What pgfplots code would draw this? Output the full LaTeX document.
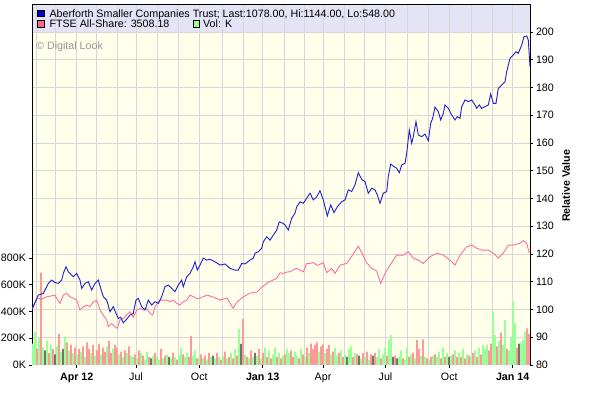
\documentclass[border=0pt]{standalone}
\usepackage{fontspec}
\setmainfont{Liberation Sans}
\usepackage{pgfplots}
\pgfplotsset{compat=1.18}
\definecolor{bgivory}{RGB}{255,255,236}
\definecolor{bandlav}{RGB}{228,228,246}
\definecolor{gridgray}{RGB}{216,216,216}
\definecolor{lineblue}{RGB}{30,30,205}
\definecolor{linepink}{RGB}{255,110,160}
\definecolor{volgreen}{RGB}{153,255,153}
\definecolor{volred}{RGB}{255,153,153}
\definecolor{volgray}{RGB}{115,115,115}
\definecolor{legblue}{RGB}{0,0,204}
\definecolor{legpink}{RGB}{255,102,136}
\definecolor{copygray}{RGB}{150,150,150}
\newcommand{\chartfont}{\fontsize{10.7}{12.8}\selectfont}
\begin{document}
\begin{tikzpicture}[x=1pt,y=1pt]
% ---------------- volume axis (left) ----------------
\begin{axis}[
  set layers,
  at={(32pt,36pt)}, anchor=south west,
  scale only axis, width=498pt, height=360pt,
  xmin=32, xmax=530, ymin=0, ymax=2691.6,
  axis line style={black, line width=1pt},
  font=\chartfont,
  ticklabel style={font=\chartfont},
  tick align=outside, major tick length=3pt,
  tick style={black, line width=0.8pt},
  xtick pos=bottom, ytick pos=left,
  xtick={76.7,136,199.3,262.7,323,385.5,449.3,512.7},
  xticklabels={\textbf{Apr 12},Jul,Oct,\textbf{Jan 13},Apr,Jul,Oct,\textbf{Jan 14}},
  xticklabel style={yshift=-1.5pt},
  extra x ticks={36,55.5,76.7,96.7,117.3,136,157.3,178,199.3,222.7,243,262.7,284,304,323,344,364,385.5,407.3,428.3,449.3,471.7,492.7,512.7},
  extra x tick labels={},
  extra x tick style={grid=major, major tick length=0pt},
  ytick={0,200,400,600,800},
  yticklabels={0K,200K,400K,600K,800K},
  yticklabel style={xshift=0.5pt},
  extra y ticks={207.5,415.0,622.4,829.9,1037.4,1244.9,1452.3,1659.8,1867.3,2074.8,2282.2,2489.7},
  extra y tick labels={},
  extra y tick style={grid=major, major tick length=0pt},
  grid style={gridgray, line width=0.9pt},
]
\begin{pgfonlayer}{axis background}
  \fill[bgivory] (rel axis cs:0,0) rectangle (rel axis cs:1,1);
  \fill[bandlav] (axis cs:32,2489.7) rectangle (rel axis cs:1,1);
\end{pgfonlayer}
% green volume bars
\addplot[ybar, bar width=1.8, bar shift=0pt, fill=volgreen, draw=none] coordinates {
(33,160)(35,250)(39,200)(43,130)(47,180)(51,150)(57,140)(61,100)(65,210)(69,110)(73,90)(77,80)(81,100)(85,60)(91,90)(95,70)(101,80)(107,140)(113,120)(119,80)(123,60)(127,90)(131,70)
(133,60)(137,50)(141,90)(145,40)(147,100)(153,70)(157,60)(159,40)(163,50)(167,80)(171,50)(175,60)(179,70)(181,130)(185,60)(187,90)(193,70)(195,110)(199,60)(203,50)(207,40)(211,60)(215,50)(219,60)(223,70)(227,50)(231,90)(235,120)(239,269)(245,80)(249,50)(253,60)(257,70)(261,50)(265,130)(269,110)(273,80)(275,130)(279,90)(283,70)(287,120)(289,90)(295,100)(297,70)(301,120)(305,60)(309,90)(319,100)(325,90)(331,80)
(335,130)(337,70)(341,110)(345,80)(349,120)(351,140)(355,90)(361,50)(365,60)(369,40)(377,60)(379,120)(383,80)(385,130)(389,187)(391,224)(399,60)(401,110)(405,40)(407,130)(411,80)(415,50)(421,70)(425,60)(429,40)(433,70)(437,60)(439,100)(443,130)(447,90)(451,70)(455,110)(459,90)(463,120)(467,80)(471,60)(475,110)(479,130)(483,150)(485,120)(487,150)(493,399)(495,224)(499,180)(503,150)(505,336)(509,110)(511,200)(513,473)(515,312)(521,170)(523,190)(525,249)
};
% red volume bars
\addplot[ybar, bar width=1.8, bar shift=0pt, fill=volred, draw=none] coordinates {
(37,120)(41,690)(49,90)(53,120)(59,235)(67,170)(71,150)(75,130)(79,120)(83,140)(87,170)(89,120)(93,150)(97,110)(99,160)(103,130)(105,100)(109,180)(111,90)(115,150)(117,130)(121,100)(125,110)(129,140)
(135,80)(139,110)(143,70)(149,60)(155,90)(161,120)(165,70)(173,90)(177,40)(183,80)(189,60)(191,217)(197,50)(201,80)(205,70)(209,90)(217,90)(221,40)(225,100)(229,60)(233,50)(237,70)(243,344)(247,60)(251,110)(259,120)(263,90)(267,60)(271,50)(277,60)(281,50)(285,80)(291,110)(293,60)(299,50)(303,80)(307,130)(311,160)(313,120)(315,150)(317,170)(321,140)(323,155)(327,120)(329,150)
(333,100)(339,90)(343,60)(353,60)(357,80)(363,90)(367,100)(371,80)(375,90)(381,50)(387,70)(395,70)(403,50)(409,60)(413,90)(417,187)(419,120)(423,192)(427,50)(431,60)(435,80)(441,50)(445,60)(453,80)(457,60)(461,60)(465,50)(469,70)(473,90)(477,60)(481,80)(489,110)(491,160)(497,140)(501,242)(507,120)(517,130)(527,274)(529,230)
};
% dark volume bars
\addplot[ybar, bar width=1.8, bar shift=0pt, fill=volgray, draw=none] coordinates {
(45,110)(55,80)(63,120)(151,50)(169,60)(213,70)(241,157)(255,90)(347,60)(359,70)(373,70)(393,60)(397,50)(449,60)(519,160)
};
\end{axis}
% ---------------- relative value axis (right) ----------------
\begin{axis}[
  at={(32pt,36pt)}, anchor=south west,
  scale only axis, width=498pt, height=360pt,
  xmin=32, xmax=530, ymin=80, ymax=209.73,
  axis x line=none, axis y line*=right,
  axis line style={black, line width=1pt},
  font=\chartfont,
  ticklabel style={font=\chartfont},
  tick align=outside, major tick length=3pt,
  tick style={black, line width=0.8pt},
  ytick={80,90,100,110,120,130,140,150,160,170,180,190,200},
  yticklabels={80,90,100,110,120,130,140,150,160,170,180,190,200},
  yticklabel style={xshift=-0.5pt},
]
\addplot[linepink, line width=0.9pt] coordinates {
(32,100.0)(36.7,104.0)(41.7,103.7)(46.7,104.6)(51.7,104.9)(55,105.2)(56.7,104.0)(60,102.2)(63.3,105.2)(66.7,105.8)(70,104.6)(73.3,104.0)(76.7,103.4)(80,99.8)(83.3,101.0)(86.7,101.6)(90,101.0)(93.3,102.8)(96.7,103.4)(100,99.8)(103.3,98.0)(106.7,96.2)(108.3,93.8)(111.7,95.0)(115,93.8)(117.3,93.2)(120,96.2)(123.3,96.8)(126.7,98.0)(130,99.2)(133.3,97.2)(136.7,99.8)(140,100.4)(143.3,99.8)(146.7,100.4)(150,98.6)(152.7,98.0)(155,101.0)(158.3,102.8)(161.7,103.4)(166.7,103.4)(170,102.8)(173.3,103.4)(176.7,102.2)(180,101.6)(183.3,102.8)(186.7,103.4)(190,105.2)(193.3,104.6)(196.7,104.0)(200,104.1)(207,105.2)(213,104.5)(220,103.4)(227,104.1)(233,100.5)(237,102.7)(243,104.5)(250,105.9)(257,106.3)(262,108.1)(267,109.5)(273,110.6)(276.7,111.2)(280,113.2)(283.3,113.0)(287,113.5)(290,113.6)(293,114.2)(296.7,114.8)(300,114.2)(303.3,113.6)(306.7,116.6)(310,116.6)(313.3,116.9)(316.7,116.0)(318.3,116.0)(323.3,116.9)(326.7,113.3)(331.7,114.8)(335,113.0)(340,116.0)(346.7,116.6)(353.3,120.0)(358.3,122.8)(361.7,120.5)(366.7,116.8)(371.7,114.8)(376.7,113.9)(380.7,109.4)(385,113.0)(390,116.0)(396.7,119.6)(403.3,119.6)(408.3,120.8)(413.3,118.5)(418.3,117.8)(423.3,116.6)(430,119.0)(436.7,120.3)(443.3,119.6)(450,117.8)(455,116.0)(460,119.6)(466.7,122.6)(471.7,123.2)(476.7,122.1)(481.7,121.4)(488.3,121.4)(493.3,120.3)(498.3,118.5)(503.3,120.3)(508.3,123.2)(513.3,123.2)(520,123.9)(523.3,124.8)(526.7,123.9)(529.3,120.3)
};
\addplot[lineblue, line width=0.9pt] coordinates {
(32,100.0)(38.3,105.2)(43.3,105.8)(48.3,109.4)(51.7,110.6)(55,109.7)(58.3,109.4)(61.7,110.6)(63.3,113.0)(66,115.4)(68.3,113.6)(70,113.0)(73.3,111.8)(76.7,113.0)(80,110.6)(81.7,107.6)(85,109.4)(88.3,110.0)(91.7,107.0)(95,109.4)(98.3,110.6)(100.7,107.6)(103.3,104.6)(106.7,103.4)(110,99.2)(113.3,101.0)(116,98.6)(118.3,96.8)(120.7,97.2)(123.3,95.2)(126.7,96.5)(130,98.0)(133.3,98.6)(136,103.4)(138.3,104.0)(141.7,101.0)(145,99.8)(148.3,103.4)(151.7,101.6)(155,102.8)(158.3,102.2)(161.7,104.6)(165,108.2)(168.3,108.8)(171.7,107.6)(175,106.4)(178.3,108.8)(181.7,110.6)(183.3,108.2)(186.7,111.8)(190,113.0)(193.3,115.4)(195,117.2)(197.3,114.2)(200,116.0)(203.3,118.5)(206.7,117.8)(210,118.1)(215,117.2)(220,116.0)(225,116.4)(230,114.8)(235,114.2)(238.3,114.2)(241.7,116.6)(245,116.4)(250,117.8)(253.3,118.5)(255,120.3)(258.3,120.8)(261.7,122.1)(263.3,124.4)(266.7,126.2)(270,125.0)(273.3,126.8)(276.7,128.6)(279.3,131.6)(282.7,131.1)(285,130.5)(288.3,128.6)(291.7,132.9)(295,134.7)(296.7,137.0)(300,138.8)(303.3,138.3)(306.7,140.1)(310,141.9)(313.3,139.5)(316.7,140.6)(320,142.8)(323.3,139.5)(327.3,133.7)(330.7,137.7)(334,134.9)(337.3,137.0)(341.7,138.8)(345,139.5)(348.3,143.1)(351.7,142.5)(355,144.9)(358.3,149.3)(361.7,146.9)(365,146.1)(368.3,141.9)(371.7,143.7)(375,143.1)(377.3,141.3)(380,138.3)(383.3,141.9)(386.7,142.5)(388.3,147.9)(390.7,152.4)(394,151.5)(396.7,150.9)(399.3,149.3)(401.7,152.1)(405,152.7)(406.7,156.3)(409.3,164.7)(411.7,159.9)(413.3,162.3)(416,167.7)(418.3,162.9)(421.7,162.3)(425,163.2)(428.3,160.8)(430.7,167.1)(432.7,168.9)(435,172.9)(438.3,171.3)(440.7,168.3)(443.3,170.7)(445,173.7)(448.3,172.5)(451.7,170.1)(455,168.3)(457.3,169.5)(460,168.9)(461.7,173.1)(465,175.5)(468.3,174.9)(471.7,175.5)(475,173.7)(476.7,172.5)(479.3,173.7)(481.7,172.5)(485,173.1)(488.3,173.7)(490.7,177.7)(493.3,174.3)(496,174.3)(498.3,179.7)(501.7,180.9)(505,182.1)(506.7,185.7)(510,190.5)(513.3,191.7)(516,192.9)(518.3,192.3)(521.7,195.3)(524,198.3)(526.7,198.6)(528.3,197.1)(530,187.5)
};
\end{axis}
% ---------------- legend band texts ----------------
\filldraw[fill=legblue, draw=black, line width=0.6pt] (37.5,384.3) rectangle (44,391);
\node[anchor=base west, inner sep=0pt, font=\chartfont] at (49.3,383.7) {Aberforth Smaller Companies Trust; Last:1078.00, Hi:1144.00, Lo:548.00};
\filldraw[fill=legpink, draw=black, line width=0.6pt] (37.5,373.7) rectangle (44,380.3);
\node[anchor=base west, inner sep=0pt, font=\chartfont] at (49.3,373) {FTSE All-Share: 3508.18};
\filldraw[fill=volgreen, draw=black, line width=0.6pt] (193,373.7) rectangle (199.5,380.3);
\node[anchor=base west, inner sep=0pt, font=\chartfont] at (203,373) {Vol: K};
\node[anchor=base west, inner sep=0pt, font=\chartfont, text=copygray] at (36,351.5) {\textcopyright\ Digital Look};
\node[rotate=90, inner sep=0pt, font=\chartfont\bfseries] at (566,215) {Relative Value};
\pgfresetboundingbox
\path[use as bounding box] (0,0) rectangle (590,401);
\end{tikzpicture}
\end{document}
